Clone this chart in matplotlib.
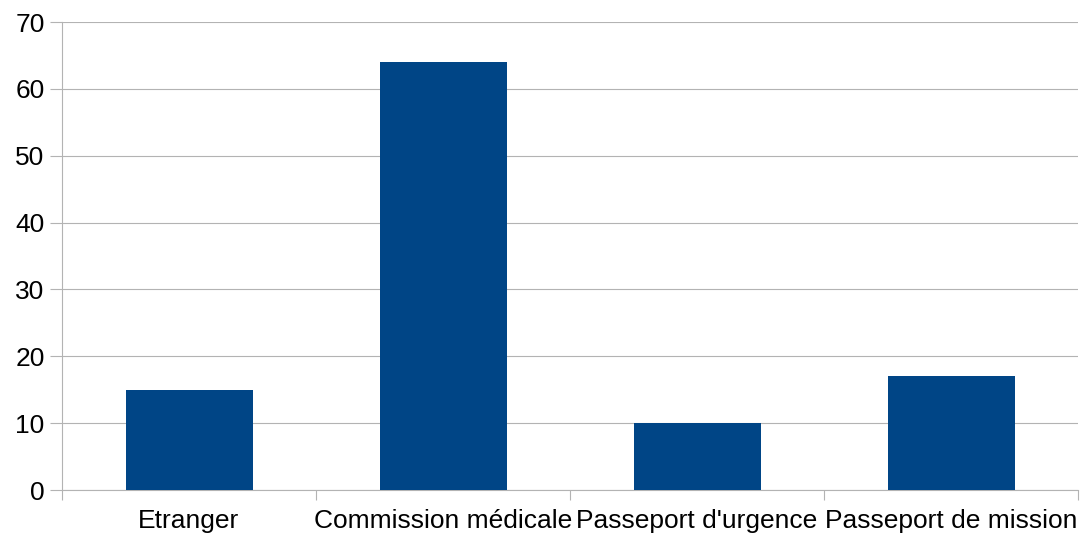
import matplotlib.pyplot as plt
import numpy as np

categories = ["Etranger", "Commission médicale", "Passeport d'urgence", "Passeport de mission"]
counts = [15, 64, 10, 17]
y_ticks = [0, 10, 20, 30, 40, 50, 60, 70]

plt.rcParams['font.family'] = ['Liberation Sans', 'DejaVu Sans']

W, H = 1080, 537
fig = plt.figure(figsize=(W / 100, H / 100), dpi=100)
ax = fig.add_axes([62 / W, (H - 490) / H, (1078 - 62) / W, (490 - 22) / H])

x = np.arange(len(categories))
ax.bar(x, counts, width=0.5, color='#004586', zorder=3)

grid_col = '#b3b3b3'
ax.set_xlim(-0.5, len(categories) - 0.5)
ax.set_ylim(0, 70)
ax.set_yticks(y_ticks)
ax.yaxis.grid(True, color=grid_col, linewidth=0.8, zorder=0)

# category boundaries carry the tick marks, labels sit in between
ax.set_xticks(np.arange(len(categories) + 1) - 0.5)
ax.set_xticklabels([])
ax.set_xticks(x, minor=True)
ax.set_xticklabels(categories, minor=True, fontsize=19)
ax.tick_params(axis='x', which='major', length=7, color=grid_col, width=0.8)
ax.tick_params(axis='x', which='minor', length=0, pad=14)
ax.tick_params(axis='y', length=8.5, color=grid_col, width=0.8, labelsize=19, pad=4)

for side in ['top', 'right']:
    ax.spines[side].set_visible(False)
for side in ['left', 'bottom']:
    ax.spines[side].set_color(grid_col)
    ax.spines[side].set_linewidth(0.8)

plt.savefig('out.png', dpi=100)
